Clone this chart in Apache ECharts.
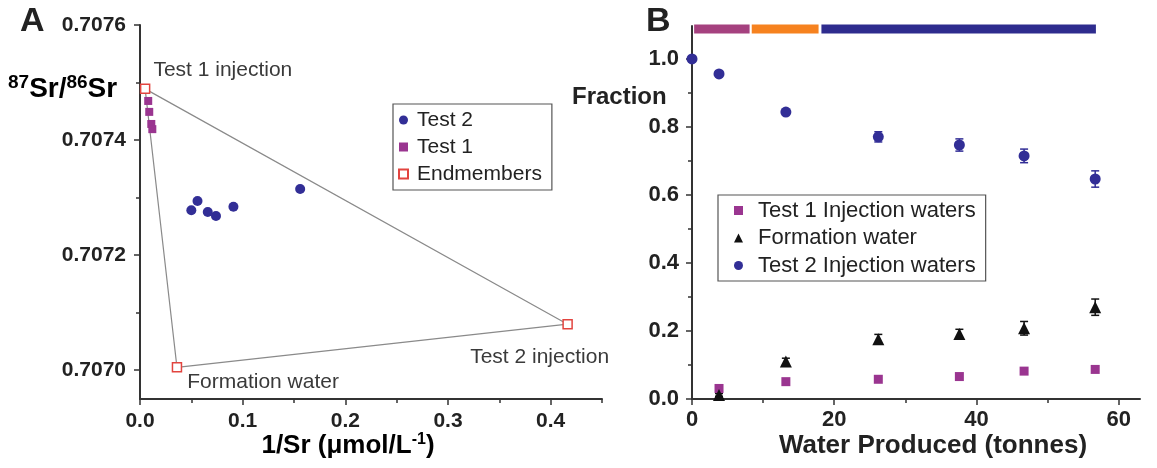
<!DOCTYPE html>
<html>
<head>
<meta charset="utf-8">
<script src="https://cdn.jsdelivr.net/npm/echarts@6/dist/echarts.min.js"></script>
<style>
html,body{margin:0;padding:0;background:#fff;}
#chart{width:1157px;height:468px;}
</style>
</head>
<body>
<div id="chart"></div>
<script>
// ---------- Panel A data ----------
const test2X = [0.050, 0.056, 0.066, 0.074, 0.091, 0.156];
const test2Y = [0.707278, 0.707294, 0.707275, 0.707268, 0.707284, 0.707315];
const test1X = [0.008, 0.009, 0.011, 0.012];
const test1Y = [0.707468, 0.707449, 0.707428, 0.707419];
const endNames = ['Test 1 injection', 'Test 2 injection', 'Formation water'];
const endX = [0.005, 0.4165, 0.036];
const endY = [0.707489, 0.70708, 0.707005];
const aYMajor = [0.7070, 0.7072, 0.7074, 0.7076];
const aYMinor = [0.7071, 0.7073, 0.7075];
const aXMajor = [0, 0.1, 0.2, 0.3, 0.4];
const aXMinor = [0.05, 0.15, 0.25, 0.35, 0.45];

// ---------- Panel B data ----------
const produced = [0, 3.8, 13.2, 26.2, 37.6, 46.7, 56.7];
const test2Frac = [1.0, 0.956, 0.844, 0.771, 0.747, 0.715, 0.647];
const test2Err = [0, 0.006, 0.006, 0.015, 0.018, 0.020, 0.024];
const producedLater = [3.8, 13.2, 26.2, 37.6, 46.7, 56.7];
const formFrac = [0.012, 0.110, 0.176, 0.191, 0.208, 0.270];
const formErr = [0.004, 0.010, 0.014, 0.014, 0.020, 0.024];
const test1Frac = [0.031, 0.051, 0.058, 0.066, 0.082, 0.087];
const phaseStart = [0.3, 8.4, 18.2];
const phaseEnd = [8.1, 17.8, 56.8];
const phaseLevel = 1.088;
const bYMajor = [0, 0.2, 0.4, 0.6, 0.8, 1.0];
const bYMinor = [0.1, 0.3, 0.5, 0.7, 0.9];
const bXMajor = [0, 20, 40, 60];
const bXMinor = [10, 30, 50];

// ---------- styles ----------
const FONT = '"Liberation Sans", Arial, Helvetica, sans-serif';
const phaseColors = ['#a5417f', '#f6821f', '#2e2c8e'];
const endLabelStyle = [
  {position: 'right', offset: [-2, -19]},
  {position: 'bottom', offset: [-28, 12]},
  {position: 'right', offset: [0, 15]}
];
const BLUE = '#322e96', PURPLE = '#9a3590', AXIS = '#333';

function valueAxis(gridIndex, min, max, major, fmt, pos, fs, margin) {
  return {
    type: 'value', gridIndex, min, max, position: pos,
    axisLine: {show: true, onZero: false, lineStyle: {color: AXIS, width: 2}},
    axisTick: {show: true, customValues: major, length: 6, lineStyle: {color: AXIS, width: 1.5}},
    axisLabel: {show: true, customValues: major, formatter: fmt, fontFamily: FONT, fontWeight: 'bold', fontSize: fs, color: '#222', margin},
    splitLine: {show: false}
  };
}
function minorAxis(gridIndex, min, max, minor, pos) {
  return {
    type: 'value', gridIndex, min, max, position: pos,
    axisLine: {show: false, onZero: false},
    axisTick: {show: true, customValues: minor, length: 4, lineStyle: {color: AXIS, width: 1.5}},
    axisLabel: {show: false},
    splitLine: {show: false}
  };
}

function errorBarRender(params, api) {
  const x = api.value(0), y = api.value(1), e = api.value(2);
  const top = api.coord([x, y + e]);
  const bot = api.coord([x, y - e]);
  const cap = 4;
  const style = {stroke: api.value(3) ? '#111' : BLUE, lineWidth: 1.5};
  return {type: 'group', children: [
    {type: 'line', shape: {x1: top[0], y1: top[1], x2: bot[0], y2: bot[1]}, style},
    {type: 'line', shape: {x1: top[0] - cap, y1: top[1], x2: top[0] + cap, y2: top[1]}, style},
    {type: 'line', shape: {x1: bot[0] - cap, y1: bot[1], x2: bot[0] + cap, y2: bot[1]}, style}
  ]};
}

const chart = echarts.init(document.getElementById('chart'), null, {renderer: 'canvas'});
const option = {
  animation: false,
  backgroundColor: '#fff',
  grid: [
    {left: 140, right: 555, top: 25, bottom: 69},
    {left: 692, right: 17, top: 26, bottom: 69}
  ],
  xAxis: [
    valueAxis(0, 0, 0.45, aXMajor, v => v.toFixed(1), 'bottom', 21, 12),
    minorAxis(0, 0, 0.45, aXMinor, 'bottom'),
    valueAxis(1, 0, 63, bXMajor, v => String(v), 'bottom', 22, 10),
    minorAxis(1, 0, 63, bXMinor, 'bottom')
  ],
  yAxis: [
    valueAxis(0, 0.70695, 0.7076, aYMajor, v => v.toFixed(4), 'left', 21, 14),
    minorAxis(0, 0.70695, 0.7076, aYMinor, 'left'),
    valueAxis(1, 0, 1.097, bYMajor, v => v.toFixed(1), 'left', 22, 13),
    minorAxis(1, 0, 1.097, bYMinor, 'left')
  ],
  legend: [
    {
      orient: 'vertical', left: 393, top: 104,
      padding: [5, 10, 5, 5], itemGap: 5, itemWidth: 9, itemHeight: 9,
      borderColor: '#555', borderWidth: 1.2,
      textStyle: {fontFamily: FONT, fontSize: 21, color: '#222', lineHeight: 22, padding: [0, 0, 0, 4]},
      selectedMode: false,
      data: [{name: 'Test 2', icon: 'circle'}, {name: 'Test 1', icon: 'rect'}, {name: 'Endmembers', icon: 'rect'}]
    },
    {
      orient: 'vertical', left: 718, top: 195,
      padding: [4, 10, 4, 16], itemGap: 4.5, itemWidth: 9, itemHeight: 9,
      borderColor: '#555', borderWidth: 1.2,
      textStyle: {fontFamily: FONT, fontSize: 22, color: '#222', lineHeight: 23, padding: [0, 0, 0, 10]},
      selectedMode: false,
      data: [{name: 'Test 1 Injection waters', icon: 'rect'}, {name: 'Formation water', icon: 'triangle'}, {name: 'Test 2 Injection waters', icon: 'circle'}]
    }
  ],
  series: [
    {
      name: 'mixing', type: 'line', xAxisIndex: 0, yAxisIndex: 0, z: 1,
      data: [0, 1, 2, 0].map(i => [endX[i], endY[i]]),
      symbol: 'none', lineStyle: {color: '#8a8a8a', width: 1.2}, silent: true
    },
    {
      name: 'Test 2', type: 'scatter', xAxisIndex: 0, yAxisIndex: 0, z: 3,
      data: test2X.map((x, i) => [x, test2Y[i]]),
      symbol: 'circle', symbolSize: 10, itemStyle: {color: BLUE, opacity: 1}
    },
    {
      name: 'Test 1', type: 'scatter', xAxisIndex: 0, yAxisIndex: 0, z: 3,
      data: test1X.map((x, i) => [x, test1Y[i]]),
      symbol: 'rect', symbolSize: 8, itemStyle: {color: PURPLE, opacity: 1}
    },
    {
      name: 'Endmembers', type: 'scatter', xAxisIndex: 0, yAxisIndex: 0, z: 4,
      data: endX.map((x, i) => ({value: [x, endY[i]], name: endNames[i], label: endLabelStyle[i]})),
      symbol: 'rect', symbolSize: 9,
      itemStyle: {color: '#fff', borderColor: '#e2443f', borderWidth: 1.5, opacity: 1},
      label: {show: true, formatter: p => p.name, fontFamily: FONT, fontSize: 21, color: '#3a3a3a'}
    },
    {
      name: 'phases', type: 'custom', xAxisIndex: 2, yAxisIndex: 2, z: 2, silent: true,
      data: phaseStart.map((s, i) => [s, phaseEnd[i], phaseLevel, i]),
      renderItem: function (params, api) {
        const a = api.coord([api.value(0), api.value(2)]);
        const b = api.coord([api.value(1), api.value(2)]);
        const h = 9;
        return {type: 'rect', shape: {x: a[0], y: a[1] - h / 2, width: b[0] - a[0], height: h},
          style: {fill: phaseColors[api.value(3)]}};
      }
    },
    {
      name: 'errT2', type: 'custom', xAxisIndex: 2, yAxisIndex: 2, z: 2, silent: true,
      data: produced.map((x, i) => [x, test2Frac[i], test2Err[i], 0]),
      renderItem: errorBarRender
    },
    {
      name: 'errForm', type: 'custom', xAxisIndex: 2, yAxisIndex: 2, z: 2, silent: true,
      data: producedLater.map((x, i) => [x, formFrac[i], formErr[i], 1]),
      renderItem: errorBarRender
    },
    {
      name: 'Test 1 Injection waters', type: 'scatter', xAxisIndex: 2, yAxisIndex: 2, z: 3,
      data: producedLater.map((x, i) => [x, test1Frac[i]]),
      symbol: 'rect', symbolSize: 9, itemStyle: {color: PURPLE, opacity: 1}
    },
    {
      name: 'Formation water', type: 'scatter', xAxisIndex: 2, yAxisIndex: 2, z: 3,
      data: producedLater.map((x, i) => [x, formFrac[i]]),
      symbol: 'triangle', symbolSize: 12, itemStyle: {color: '#111', opacity: 1}
    },
    {
      name: 'Test 2 Injection waters', type: 'scatter', xAxisIndex: 2, yAxisIndex: 2, z: 3,
      data: produced.map((x, i) => [x, test2Frac[i]]),
      symbol: 'circle', symbolSize: 11, itemStyle: {color: BLUE, opacity: 1}, clip: false
    }
  ],
  graphic: [
    {type: 'text', x: 20, y: 22, style: {text: 'A', font: 'bold 34px ' + FONT, fill: '#222', verticalAlign: 'middle', align: 'left'}},
    {type: 'text', x: 646, y: 22, style: {text: 'B', font: 'bold 34px ' + FONT, fill: '#222', verticalAlign: 'middle', align: 'left'}},
    {type: 'text', x: 8, y: 89, style: {
      text: '{sup|87}{b|Sr/}{sup|86}{b|Sr}', align: 'left', verticalAlign: 'middle',
      rich: {
        b: {fontFamily: FONT, fontWeight: 'bold', fontSize: 28, lineHeight: 30, color: '#222'},
        sup: {fontFamily: FONT, fontWeight: 'bold', fontSize: 19, lineHeight: 30, padding: [0, 0, 12, 0], color: '#222'}
      }
    }},
    {type: 'text', x: 572, y: 97, style: {text: 'Fraction', font: 'bold 24px ' + FONT, fill: '#222', verticalAlign: 'middle', align: 'left'}},
    {type: 'text', x: 348, y: 446, style: {
      text: '{a|1/Sr (μmol/L}{s|-1}{a|)}', align: 'center', verticalAlign: 'middle',
      rich: {
        a: {fontFamily: FONT, fontWeight: 'bold', fontSize: 26, lineHeight: 28, color: '#222'},
        s: {fontFamily: FONT, fontWeight: 'bold', fontSize: 16, lineHeight: 28, padding: [0, 0, 12, 0], color: '#222'}
      }
    }},
    {type: 'text', x: 933, y: 446, style: {text: 'Water Produced (tonnes)', font: 'bold 26px ' + FONT, fill: '#222', verticalAlign: 'middle', align: 'center'}}
  ]
};
chart.setOption(option);
</script>
</body>
</html>
